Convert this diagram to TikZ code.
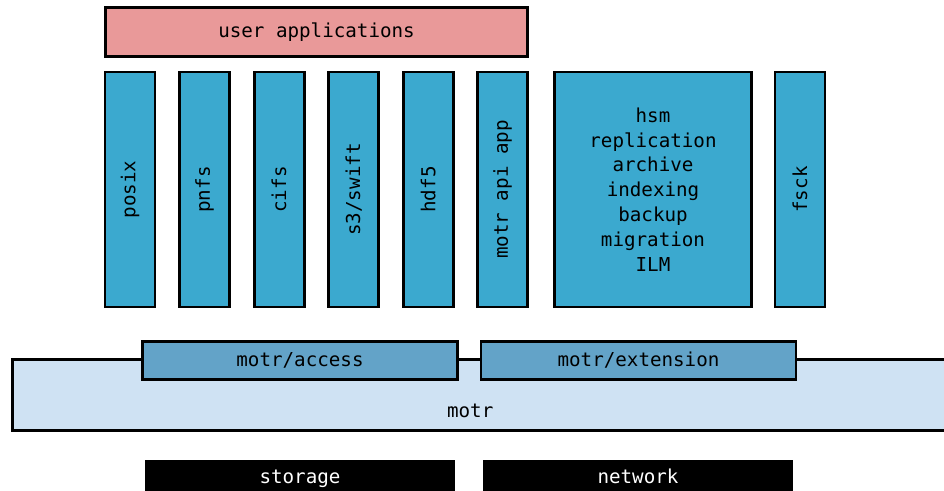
\documentclass[tikz,border=0pt]{standalone}
\usepackage{fontspec}
\setmonofont{DejaVu Sans Mono}
\usetikzlibrary{positioning}

\definecolor{userpink}{RGB}{233,153,153}
\definecolor{appblue}{RGB}{59,169,207}
\definecolor{layerblue}{RGB}{99,163,200}
\definecolor{corelight}{RGB}{207,226,243}

\newcommand{\vtext}[1]{\rotatebox{90}{#1}}

\begin{document}
\begin{tikzpicture}[
	x=0.75pt, y=-0.75pt,
	monofont/.style={font=\ttfamily\fontsize{14.4}{18.6}\selectfont},
	box/.style={rectangle, draw, line width=2.2pt, inner sep=0pt, outer sep=0pt, monofont},
	userbox/.style={box, fill=userpink, minimum width=316.5pt, minimum height=36.75pt},
	appbox/.style={box, fill=appblue, minimum width=37.5pt, minimum height=176.25pt},
	toolbox/.style={box, fill=appblue, minimum width=147.75pt, minimum height=176.25pt, align=center},
	corebox/.style={box, fill=corelight, minimum width=710.6pt, minimum height=53.25pt},
	layerbox/.style={box, fill=layerblue, minimum width=236.25pt, minimum height=28.5pt},
	basebox/.style={rectangle, fill=black, text=white, inner sep=0pt, minimum width=232.5pt, minimum height=30pt, text height=1.6ex, text depth=0.4ex, monofont},
	node distance=18.4pt
]

\useasboundingbox (0,0) rectangle (944,491);
\clip (0,0) rectangle (944,491);

% top row
\node[userbox] (userapps) at (316.5,32) {user applications};

% access interfaces
\node[appbox] (posix) at (130,189.5) {\vtext{posix}};
\node[appbox, right=of posix] (pnfs) {\vtext{pnfs}};
\node[appbox, right=of pnfs] (cifs) {\vtext{cifs}};
\node[appbox, right=of cifs] (swift) {\vtext{s3/swift}};
\node[appbox, right=of swift] (hdf) {\vtext{hdf5}};
\node[appbox, right=of hdf] (apiapp) {\vtext{motr api app}};

% extensions
\node[toolbox] (services) at (653,189.5) {hsm\\replication\\archive\\indexing\\backup\\migration\\ILM};
\node[appbox] (fsck) at (800,189.5) {\vtext{fsck}};

% core
\node[corebox, anchor=west, label={[monofont, xshift=-12pt, yshift=-12pt]center:motr}] (motr) at (12.5,395) {};
\node[layerbox] (access) at (300,360.5) {motr/access};
\node[layerbox] (extension) at (638.5,360.5) {motr/extension};

% bottom
\node[basebox, anchor=north] (storage) at (300,460) {storage};
\node[basebox, anchor=north] (network) at (638,460) {network};

\end{tikzpicture}
\end{document}
